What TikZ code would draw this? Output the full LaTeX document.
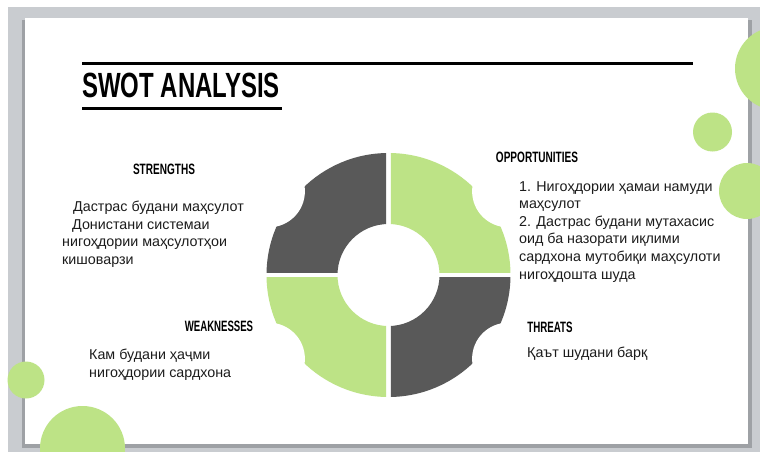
\documentclass[tikz,border=0pt]{standalone}
\usepackage{fontspec}
\setmainfont{Liberation Sans}
\usepackage{xcolor}
\usepackage{tikz}
\usetikzlibrary{positioning}
\definecolor{framegray}{RGB}{201,204,208}
\definecolor{shadowgray}{RGB}{158,161,165}
\definecolor{ringgreen}{RGB}{189,227,134}
\definecolor{ringdark}{RGB}{89,89,89}
\definecolor{textdark}{RGB}{28,28,28}
\newcommand{\narrowtext}[2]{\scalebox{#1}[1]{#2}}

\begin{document}
\begin{tikzpicture}[
    x=1pt, y=-1pt,
    heading/.style={anchor=base, inner sep=0pt, font=\fontsize{15}{18}\selectfont\bfseries},
    bodyblock/.style={anchor=north west, inner sep=0pt, align=left, text=textdark, font=\fontsize{14.3}{17.6}\selectfont},
    dot/.style={fill=ringgreen}
]
    \useasboundingbox (0,0) rectangle (760,452);
    \clip (0,0) rectangle (760,452);

    % Slide and frame
    \fill[framegray] (8,7) rectangle (760,452);
    \fill[shadowgray] (22,20) rectangle (752,448);
    \fill[white] (25,18) rectangle (748,444);

    % Decorative circles
    \fill[dot] (776.5,68.5) circle (41.5);
    \fill[dot] (712.5,132) circle (19.5);
    \fill[dot] (747,191) circle (28);
    \fill[dot] (26,380) circle (18.5);
    \fill[dot] (82.5,448.5) circle (42.5);

    % Title
    \draw[line width=3pt] (82,63.5) -- (693,63.5);
    \node[anchor=base west, inner sep=0pt, font=\fontsize{35}{40}\selectfont\bfseries] (title) at (82,97) {\narrowtext{0.685}{SWOT ANALYSIS}};
    \draw[line width=3pt] (82,108.5) -- (282,108.5);

    % Ring
    \foreach \sx/\sy/\col in {-1/-1/ringdark, 1/-1/ringgreen, -1/1/ringgreen, 1/1/ringdark}{
        \begin{scope}[shift={(388.5,275)}]
            \clip (\sx*2.3,\sy*2.3) rectangle (\sx*130,\sy*130);
            \fill[\col, even odd rule] (0,0) circle (122) (0,0) circle (51);
            \fill[white] (\sx*119.6,\sy*83.7) circle (36);
        \end{scope}
    }

    % Strengths
    \node[heading] (strengths) at (164,174) {\narrowtext{0.67}{STRENGTHS}};
    \node[bodyblock] (strengthsText) at (62,201) {\hspace{11pt}Дастрас будани маҳсулот\\\hspace{10pt}Донистани системаи\\нигоҳдории маҳсулотҳои\\кишоварзи};

    % Opportunities
    \node[heading] (opportunities) at (537,162.5) {\narrowtext{0.67}{OPPORTUNITIES}};
    \node[bodyblock] (opportunitiesText) at (519,181) {1. Нигоҳдории ҳамаи намуди\\маҳсулот\\2. Дастрас будани мутахасис\\оид ба назорати иқлими\\сардхона мутобиқи маҳсулоти\\нигоҳдошта шуда};

    % Weaknesses
    \node[heading] (weaknesses) at (219,331) {\narrowtext{0.64}{WEAKNESSES}};
    \node[bodyblock] (weaknessesText) at (89,349) {Кам будани ҳаҷми\\нигоҳдории сардхона};

    % Threats
    \node[heading] (threats) at (550,332) {\narrowtext{0.65}{THREATS}};
    \node[bodyblock] (threatsText) at (527,347) {Қаът шудани барқ};
\end{tikzpicture}
\end{document}
